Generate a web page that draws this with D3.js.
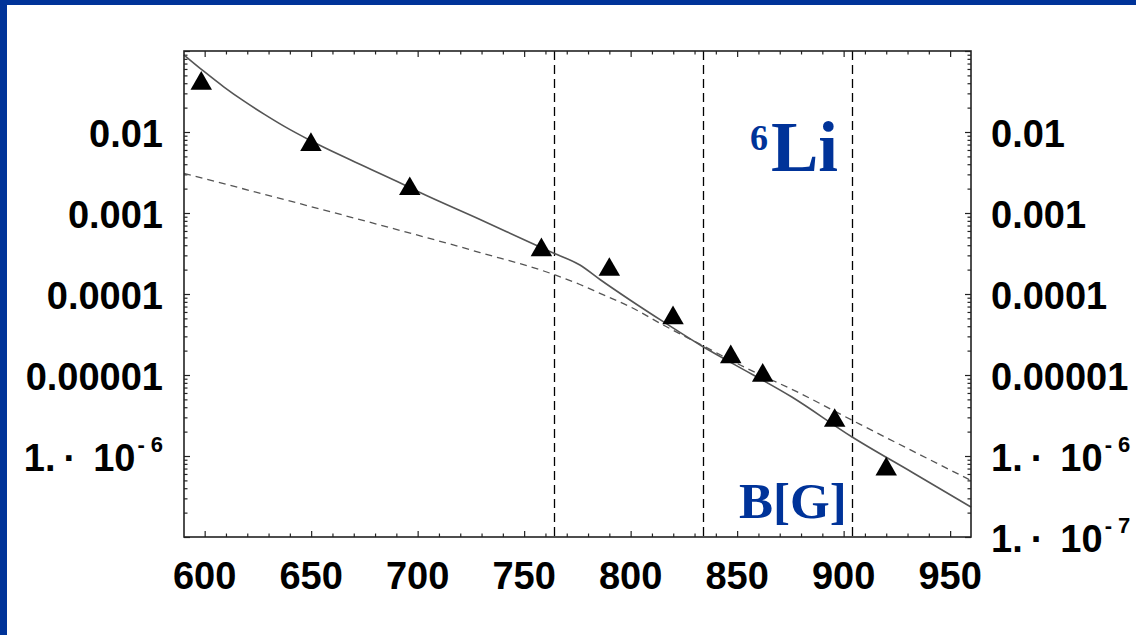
<!DOCTYPE html>
<html>
<head>
<meta charset="utf-8">
<script src="https://cdn.jsdelivr.net/npm/d3@7"></script>
<style>
  html, body { margin: 0; padding: 0; background: #fff; }
  svg { display: block; }
</style>
</head>
<body>
<svg id="chart" width="1136" height="635"></svg>
<script>
(() => {
    // measured loss rates (triangles)
    const pointB = [598.4, 649.9, 696.3, 758.1, 790.0, 819.9, 847.0, 862.0, 895.8, 920.0];
    const pointRate = [0.0397, 0.00697, 0.00199, 0.000349, 0.000200, 5.06e-5, 1.67e-5, 9.86e-6, 2.73e-6, 6.87e-7];

    // solid theory curve
    const fullB = [590.3, 599.7, 609.1, 618.5, 627.9, 637.2, 649.8, 668.6, 690.4, 701.1, 729.3,
        752.8, 763.7, 776.2, 785.6, 799.7, 815.3, 833.4, 848.2, 875.7, 903.8, 932.7, 959.8];
    const fullRate = [0.0893, 0.0559, 0.0359, 0.0240, 0.0166, 0.0118, 0.00781, 0.00451, 0.00245,
        0.00179, 0.000832, 0.000433, 0.000321, 0.000228, 0.000151, 8.43e-5, 4.55e-5, 2.28e-5,
        1.37e-5, 5.35e-6, 1.73e-6, 6.17e-7, 2.34e-7];

    // dashed theory curve
    const simpleB = [590.3, 637.2, 682.3, 729.3, 763.7, 776.2, 785.6, 799.7, 815.3, 833.4,
        854.5, 878.0, 903.8, 959.8];
    const simpleRate = [0.00308, 0.00147, 0.000711, 0.000325, 0.000175, 0.000131,
        0.000102, 6.97e-5, 4.14e-5, 2.34e-5, 1.21e-5, 6.22e-6, 2.78e-6, 4.99e-7];

    // vertical dashed markers
    const markerB = [764, 834, 904];

    const xTicks = [600, 650, 700, 750, 800, 850, 900, 950];
    const leftYTicks = [1e-2, 1e-3, 1e-4, 1e-5, 1e-6];
    const rightYTicks = [1e-2, 1e-3, 1e-4, 1e-5, 1e-6, 1e-7];

    const svg = d3.select("#chart");
    const plot = { left: 184, right: 971, top: 51, bottom: 537 };
    const blue = "#003399";

    const x = d3.scaleLinear().domain([590.3, 959.8]).range([plot.left, plot.right]);
    const y = d3.scaleLog().domain([1e-7, 0.1]).range([plot.bottom, plot.top]);

    svg.append("rect").attr("width", 1136).attr("height", 635).attr("fill", "#fff");
    // slide border
    svg.append("rect").attr("x", 0).attr("y", 0).attr("width", 1136).attr("height", 5).attr("fill", blue);
    svg.append("rect").attr("x", 0).attr("y", 0).attr("width", 7).attr("height", 635).attr("fill", blue);

    // ticks
    const xMinor = d3.range(600, 960, 10).filter(v => v % 50 !== 0);
    const yMajor = d3.range(-7, 0).map(e => Math.pow(10, e));
    const yMinor = [];
    d3.range(-7, -1).forEach(e => {
        for (let m = 2; m <= 9; m++) yMinor.push(m * Math.pow(10, e));
    });

    function ticks(axis, values, size, transform) {
        svg.append("g")
            .attr("transform", transform)
            .call(axis.tickValues(values).tickSize(size).tickFormat(""))
            .call(g => g.select(".domain").remove())
            .selectAll("line").attr("stroke", "#222").attr("stroke-width", 1.2);
    }
    ticks(d3.axisBottom(x), xTicks, -6, `translate(0,${plot.bottom})`);
    ticks(d3.axisBottom(x), xMinor, -3.5, `translate(0,${plot.bottom})`);
    ticks(d3.axisTop(x), xTicks, -6, `translate(0,${plot.top})`);
    ticks(d3.axisTop(x), xMinor, -3.5, `translate(0,${plot.top})`);
    ticks(d3.axisLeft(y), yMajor, -6, `translate(${plot.left},0)`);
    ticks(d3.axisLeft(y), yMinor, -3.5, `translate(${plot.left},0)`);
    ticks(d3.axisRight(y), yMajor, -6, `translate(${plot.right},0)`);
    ticks(d3.axisRight(y), yMinor, -3.5, `translate(${plot.right},0)`);

    // vertical markers
    svg.selectAll(".marker")
        .data(markerB)
        .enter()
        .append("line")
        .attr("class", "marker")
        .attr("x1", d => Math.round(x(d)) + 0.5).attr("x2", d => Math.round(x(d)) + 0.5)
        .attr("y1", plot.top).attr("y2", plot.bottom)
        .attr("stroke", "#000")
        .attr("stroke-width", 1.3)
        .attr("stroke-dasharray", "9,5");

    const line = d3.line()
        .x(d => x(d[0]))
        .y(d => y(d[1]))
        .curve(d3.curveMonotoneX);

    svg.append("path")
        .attr("d", line(d3.zip(simpleB, simpleRate)))
        .attr("fill", "none")
        .attr("stroke", "#555")
        .attr("stroke-width", 1.3)
        .attr("stroke-dasharray", "7,5");

    svg.append("path")
        .attr("d", line(d3.zip(fullB, fullRate)))
        .attr("fill", "none")
        .attr("stroke", "#555")
        .attr("stroke-width", 1.6);

    svg.selectAll(".pt")
        .data(d3.zip(pointB, pointRate))
        .enter()
        .append("path")
        .attr("class", "pt")
        .attr("d", d3.symbol().type(d3.symbolTriangle).size(200))
        .attr("transform", d => `translate(${x(d[0])},${y(d[1])})`)
        .attr("fill", "#000");

    // frame
    svg.append("rect")
        .attr("x", plot.left).attr("y", plot.top)
        .attr("width", plot.right - plot.left).attr("height", plot.bottom - plot.top)
        .attr("fill", "none")
        .attr("stroke", "#222")
        .attr("stroke-width", 1.6);

    // tick labels
    const font = "'Liberation Sans', Arial, sans-serif";

    svg.selectAll(".xlab")
        .data(xTicks)
        .enter()
        .append("text")
        .attr("class", "xlab")
        .attr("x", d => x(d))
        .attr("y", plot.bottom + 52)
        .attr("text-anchor", "middle")
        .style("font-family", font)
        .style("font-weight", "bold")
        .style("font-size", "38px")
        .text(d => d);

    function yLabel(v, xPos, anchor) {
        const e = Math.round(Math.log10(v));
        const t = svg.append("text")
            .attr("x", xPos)
            .attr("y", y(v) + 14.5)
            .attr("text-anchor", anchor)
            .style("font-family", font)
            .style("font-weight", "bold")
            .style("font-size", "38px");
        if (e > -6) {
            t.text(v.toFixed(-e));
            return;
        }
        t.append("tspan").text("1.");
        t.append("tspan").attr("dx", 8).text("\u00b7");
        t.append("tspan").attr("dx", 17).text("10");
        t.append("tspan").attr("dx", 2).attr("dy", -19).style("font-size", "22px").text("-");
        t.append("tspan").attr("dx", 6).style("font-size", "22px").text(String(-e));
    }
    leftYTicks.forEach(v => yLabel(v, 163, "end"));
    rightYTicks.forEach(v => yLabel(v, 991, "start"));

    // annotations
    const serif = "'Liberation Serif', 'Times New Roman', serif";
    const li = svg.append("text")
        .attr("x", 750)
        .attr("y", 171)
        .style("font-family", serif)
        .style("font-weight", "bold")
        .attr("fill", blue);
    li.append("tspan").attr("dy", -21).style("font-size", "36px").text("6");
    li.append("tspan").attr("dy", 21).attr("dx", 3).style("font-size", "71px").text("Li");

    svg.append("text")
        .attr("x", 739)
        .attr("y", 518)
        .style("font-family", serif)
        .style("font-weight", "bold")
        .style("font-size", "51px")
        .attr("fill", blue)
        .text("B[G]");
})();
</script>
</body>
</html>
